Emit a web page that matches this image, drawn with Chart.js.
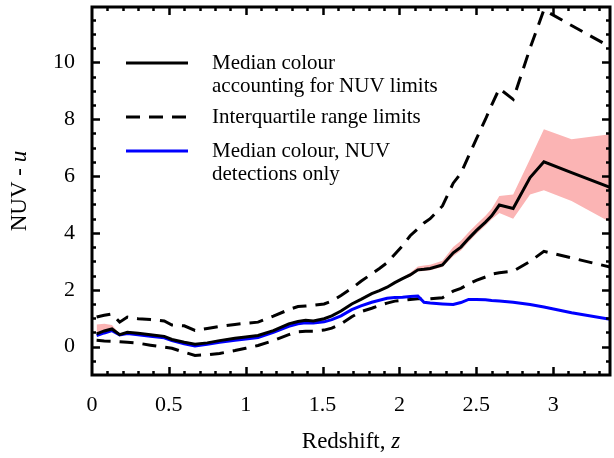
<!DOCTYPE html>
<html>
<head>
<meta charset="utf-8">
<script src="https://cdn.jsdelivr.net/npm/chart.js@4.4.1/dist/chart.umd.min.js"></script>
<style>
  html, body { margin: 0; padding: 0; background: #fff; }
  canvas { display: block; }
</style>
</head>
<body>
<canvas id="chartColour" width="614" height="458"></canvas>
<script>
// redshift bins and the colour curves
var redshift = [0.03,0.08,0.13,0.18,0.23, 0.30,0.38,0.47,0.52,0.60,
  0.67,0.75,0.83,0.93,1.00, 1.08,1.18,1.28,1.34,1.39,
  1.44,1.51,1.56,1.62,1.69, 1.75,1.82,1.87,1.92,1.97,
  2.02,2.07,2.12,2.16,2.20, 2.28,2.35,2.40,2.45,2.50,
  2.56,2.60,2.65,2.74,2.85, 2.94,3.12,3.37]

var medianColour = [0.45,0.55,0.62,0.42,0.50, 0.47,0.42,0.36,0.25,0.15,
  0.08,0.13,0.21,0.29,0.34, 0.39,0.56,0.80,0.88,0.93,
  0.90,0.98,1.08,1.25,1.50, 1.66,1.86,1.97,2.09,2.25,
  2.39,2.52,2.70,2.72,2.75, 2.87,3.30,3.50,3.80,4.08,
  4.38,4.60,4.98,4.86,5.95, 6.50,6.12,5.60]

var medianErrHigh = [0.78,0.80,0.76,0.45,0.53, 0.50,0.45,0.39,0.28,0.18,
  0.11,0.16,0.24,0.32,0.37, 0.42,0.59,0.83,0.91,0.96,
  0.93,1.01,1.11,1.28,1.53, 1.69,1.89,2.00,2.12,2.28,
  2.43,2.60,2.82,2.85,2.88, 3.02,3.50,3.72,4.02,4.30,
  4.60,4.85,5.30,5.35,6.60, 7.65,7.30,7.47]

var medianErrLow = [0.38,0.45,0.55,0.39,0.47, 0.44,0.39,0.33,0.22,0.12,
  0.05,0.10,0.18,0.26,0.31, 0.36,0.53,0.77,0.85,0.90,
  0.87,0.95,1.05,1.22,1.47, 1.63,1.83,1.94,2.06,2.22,
  2.36,2.46,2.64,2.66,2.69, 2.80,3.18,3.38,3.68,3.96,
  4.26,4.48,4.70,4.50,5.35, 5.50,5.12,4.38]

var upperQuartile = [1.04,1.10,1.15,0.86,1.04, 0.98,0.95,0.90,0.76,0.73,
  0.57,0.64,0.71,0.78,0.82, 0.86,1.07,1.30,1.41,1.43,
  1.45,1.50,1.60,1.80,2.05, 2.30,2.56,2.75,2.95,3.25,
  3.55,3.90,4.15,4.35,4.50, 4.95,5.75,6.10,6.70,7.30,
  8.00,8.50,9.08,8.70,10.50, 11.85,11.30,10.55]

var lowerQuartile = [0.22,0.20,0.19,0.17,0.15, 0.12,0.05,-0.02,-0.06,-0.20,
  -0.31,-0.29,-0.24,-0.14,-0.06, 0.04,0.21,0.42,0.52,0.54,
  0.54,0.58,0.65,0.80,1.05, 1.23,1.35,1.45,1.53,1.60,
  1.63,1.66,1.68,1.68,1.68, 1.72,1.95,2.05,2.20,2.33,
  2.45,2.55,2.60,2.65,3.00, 3.35,3.12,2.80]

var detectedMedian = [0.39,0.48,0.56,0.41,0.46, 0.42,0.36,0.31,0.21,0.10,
  0.02,0.08,0.15,0.22,0.27, 0.32,0.50,0.71,0.80,0.84,
  0.83,0.87,0.95,1.08,1.30, 1.43,1.56,1.63,1.70,1.73,
  1.74,1.76,1.78,1.56,1.53, 1.50,1.48,1.55,1.66,1.66,
  1.65,1.62,1.60,1.56,1.48, 1.39,1.19,0.96]

var xTicks = [0, 0.5, 1, 1.5, 2, 2.5, 3]
var yTicks = [0, 2, 4, 6, 8, 10]

var legendLabels = [
  ['Median colour', 'accounting for NUV limits'],
  ['Interquartile range limits'],
  ['Median colour, NUV', 'detections only']
]

var serif = '"Liberation Serif", "Times New Roman", serif'

var pairs = function(values){
  return redshift.map((z, i) => ({x: z, y: values[i]}))
}

// frame with inward ticks on all four sides
var framePlugin = {
  id: 'frame',
  afterDraw: function(chart){
    const ctx = chart.ctx
    const a = chart.chartArea
    const xs = chart.scales.x
    const ys = chart.scales.y
    ctx.save()
    ctx.strokeStyle = '#000'
    ctx.lineWidth = 2.5
    ctx.beginPath()
    for (let i = 1; i * 0.1 < xs.max; i++) {
      const v = i * 0.1
      const px = Math.round(xs.getPixelForValue(v)) + 0.5
      const len = (i % 5 === 0) ? 8 : 4
      ctx.moveTo(px, a.bottom); ctx.lineTo(px, a.bottom - len)
      ctx.moveTo(px, a.top); ctx.lineTo(px, a.top + len)
    }
    for (let i = -1; i * 0.5 < ys.max; i++) {
      const v = i * 0.5
      const py = Math.round(ys.getPixelForValue(v)) + 0.5
      const len = (i % 4 === 0) ? 8 : 4
      ctx.moveTo(a.left, py); ctx.lineTo(a.left + len, py)
      ctx.moveTo(a.right, py); ctx.lineTo(a.right - len, py)
    }
    ctx.stroke()
    ctx.lineWidth = 3
    ctx.strokeRect(a.left, a.top, a.right - a.left, a.bottom - a.top)
    ctx.restore()
  }
}

// axis titles with the italic variable names
var titlePlugin = {
  id: 'axisTitles',
  afterDraw: function(chart){
    const ctx = chart.ctx
    const a = chart.chartArea
    const drawMixed = function(plain, italic, cx, cy){
      ctx.font = '23px ' + serif
      const w1 = ctx.measureText(plain).width
      ctx.font = 'italic 23px ' + serif
      const w2 = ctx.measureText(italic).width
      const x0 = cx - (w1 + w2) / 2
      ctx.font = '23px ' + serif
      ctx.fillText(plain, x0, cy)
      ctx.font = 'italic 23px ' + serif
      ctx.fillText(italic, x0 + w1, cy)
    }
    ctx.save()
    ctx.fillStyle = '#000'
    ctx.textBaseline = 'middle'
    ctx.textAlign = 'left'
    drawMixed('Redshift, ', 'z', (a.left + a.right) / 2, 442)
    ctx.translate(20, (a.top + a.bottom) / 2)
    ctx.rotate(-Math.PI / 2)
    drawMixed('NUV - ', 'u', 0, 0)
    ctx.restore()
  }
}

// legend in the upper left of the plot
var legendPlugin = {
  id: 'cornerLegend',
  afterDraw: function(chart){
    const ctx = chart.ctx
    const sets = [0, 2, 1]
    const lineY = [63, 117, 151]
    ctx.save()
    ctx.font = '21px ' + serif
    ctx.fillStyle = '#000'
    ctx.textBaseline = 'middle'
    sets.forEach(function(idx, k){
      const ds = chart.data.datasets[idx]
      ctx.strokeStyle = ds.borderColor
      ctx.lineWidth = ds.borderWidth
      ctx.setLineDash(ds.borderDash || [])
      ctx.beginPath()
      ctx.moveTo(126, lineY[k]); ctx.lineTo(188, lineY[k])
      ctx.stroke()
      legendLabels[k].forEach(function(line, j){
        ctx.fillText(line, 212, lineY[k] + j * 23)
      })
    })
    ctx.restore()
  }
}

var ctx = document.getElementById('chartColour')

var chartColour = new Chart(ctx, {
  type: 'line',
  data: {
    datasets: [{
      label: 'Median colour accounting for NUV limits',
      data: pairs(medianColour),
      borderColor: '#000',
      borderWidth: 3,
      fill: false
    }, {
      label: 'Median colour, NUV detections only',
      data: pairs(detectedMedian),
      borderColor: '#0000ff',
      borderWidth: 3,
      fill: false
    }, {
      label: 'Interquartile range limits',
      data: pairs(upperQuartile),
      borderColor: '#000',
      borderWidth: 3,
      borderDash: [14, 9],
      fill: false
    }, {
      label: 'lower quartile',
      data: pairs(lowerQuartile),
      borderColor: '#000',
      borderWidth: 3,
      borderDash: [14, 9],
      fill: false
    }, {
      label: 'median error high',
      data: pairs(medianErrHigh),
      borderColor: 'rgba(0,0,0,0)',
      borderWidth: 0,
      backgroundColor: '#fbb4b4',
      fill: '+1'
    }, {
      label: 'median error low',
      data: pairs(medianErrLow),
      borderColor: 'rgba(0,0,0,0)',
      borderWidth: 0,
      fill: false
    }]
  },
  options: {
    responsive: false,
    animation: false,
    devicePixelRatio: 1,
    layout: { padding: { left: 0, top: 7, right: 4, bottom: 0 } },
    elements: {
      point: { radius: 0, hoverRadius: 0 },
      line: { tension: 0 }
    },
    plugins: {
      legend: { display: false },
      tooltip: { enabled: false }
    },
    scales: {
      x: {
        type: 'linear',
        min: 0,
        max: 3.37,
        afterBuildTicks: function(s){ s.ticks = xTicks.map(v => ({value: v})) },
        afterFit: function(s){ s.height = 83; s.paddingLeft = 0; s.paddingRight = 0 },
        grid: { display: false, drawTicks: false },
        border: { display: false },
        ticks: {
          autoSkip: false,
          maxRotation: 0,
          padding: 17,
          color: '#000',
          font: { family: serif, size: 22 },
          callback: function(v){ return String(v) }
        }
      },
      y: {
        min: -1,
        max: 11.95,
        afterBuildTicks: function(s){ s.ticks = yTicks.map(v => ({value: v})) },
        afterFit: function(s){ s.width = 92; s.paddingTop = 0; s.paddingBottom = 0 },
        grid: { display: false, drawTicks: false },
        border: { display: false },
        ticks: {
          autoSkip: false,
          padding: 17,
          color: '#000',
          font: { family: serif, size: 22 },
          callback: function(v){ return String(v) }
        }
      }
    }
  },
  plugins: [framePlugin, titlePlugin, legendPlugin]
})
</script>
</body>
</html>
